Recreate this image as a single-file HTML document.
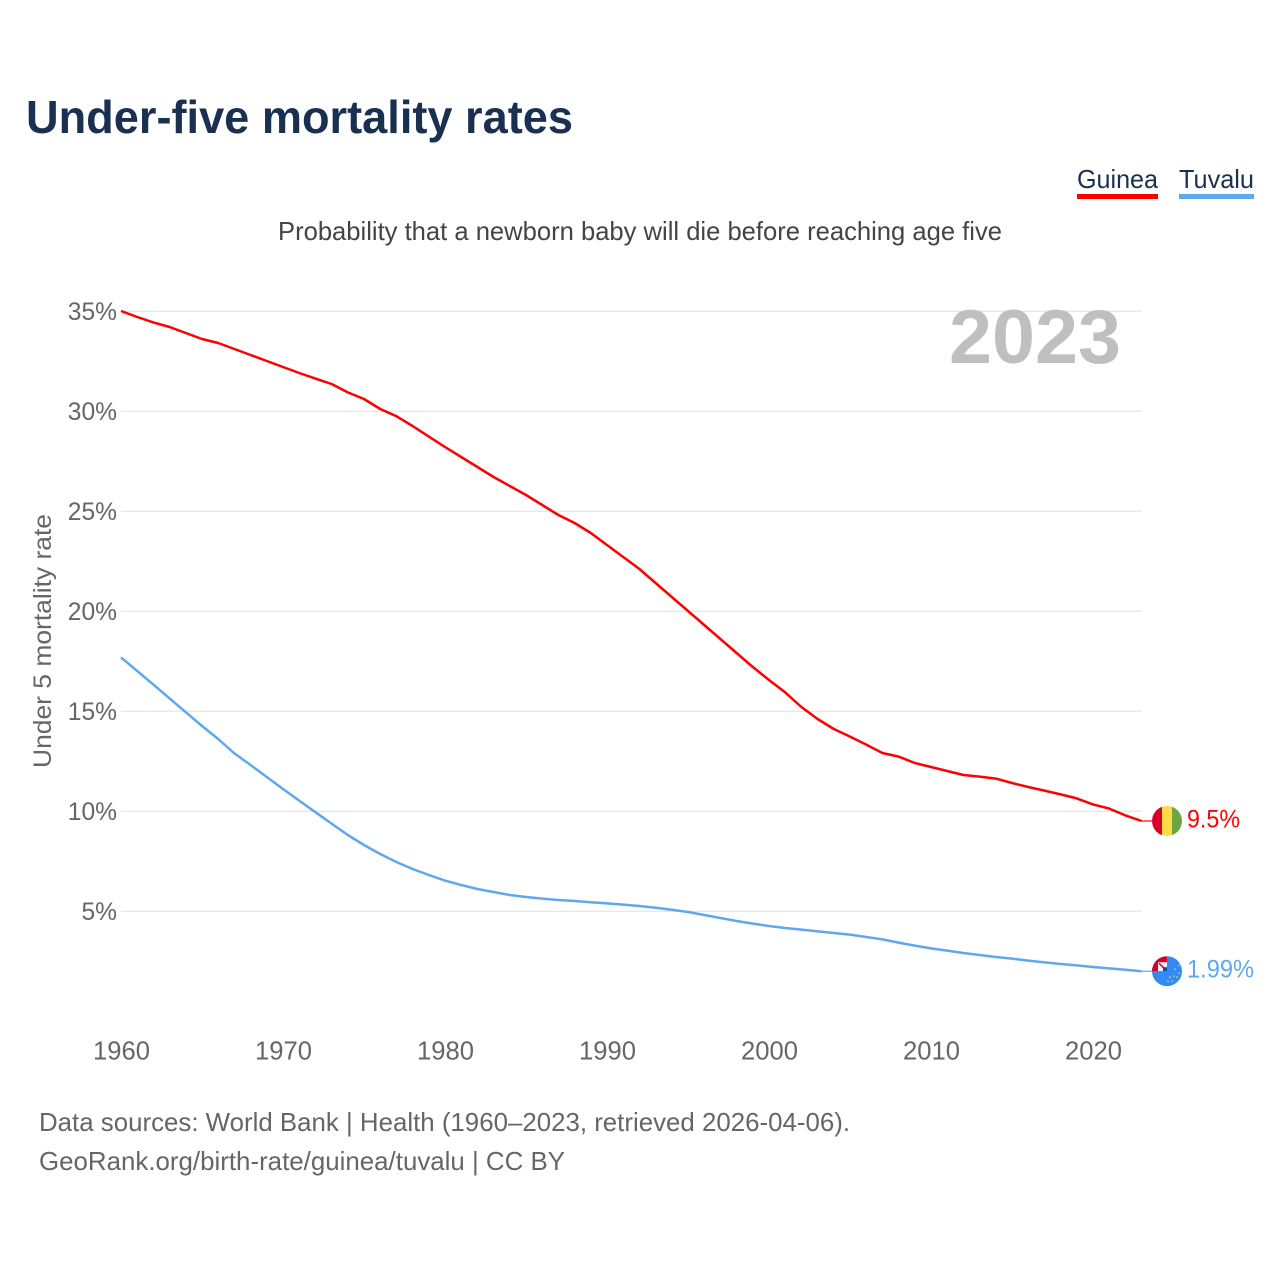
<!DOCTYPE html>
<html lang="en">
<head>
<meta charset="utf-8">
<title>Under-five mortality rates</title>
<style>
html,body{margin:0;padding:0;background:#fff;}
svg{display:block;font-family:"Liberation Sans",Arial,sans-serif;}
</style>
</head>
<body>
<svg id="chart" xmlns="http://www.w3.org/2000/svg" width="1280" height="1280" viewBox="0 0 1280 1280">
  <rect x="0" y="0" width="1280" height="1280" fill="#ffffff"/>
  <defs>
    <clipPath id="guinea-clip"><circle cx="0" cy="0" r="15"/></clipPath>
    <clipPath id="tuvalu-clip"><circle cx="0" cy="0" r="15"/></clipPath>
  </defs>

  <text x="26" y="133" font-size="46" font-weight="700" fill="#1a3050" textLength="547" lengthAdjust="spacingAndGlyphs">Under-five mortality rates</text>

  <g>
    <g>
      <text x="1077" y="188" font-size="26" fill="#1a3050" textLength="81" lengthAdjust="spacingAndGlyphs">Guinea</text>
      <rect x="1077" y="194" width="81" height="5" fill="#ff0000"/>
    </g>
    <g>
      <text x="1179" y="188" font-size="26" fill="#1a3050" textLength="75" lengthAdjust="spacingAndGlyphs">Tuvalu</text>
      <rect x="1179" y="194" width="75" height="5" fill="#5fa8ee"/>
    </g>
  </g>

  <text x="278" y="240" font-size="26" fill="#444444" textLength="724" lengthAdjust="spacingAndGlyphs">Probability that a newborn baby will die before reaching age five</text>

  <g id="grid"></g>
  <g id="y-ticks"></g>
  <g id="x-ticks"></g>

  <text transform="translate(51,768) rotate(-90)" x="0" y="0" font-size="25" fill="#666666" textLength="254" lengthAdjust="spacingAndGlyphs">Under 5 mortality rate</text>

  <text x="949" y="363" font-size="76" font-weight="700" fill="#bfbfbf" textLength="172" lengthAdjust="spacingAndGlyphs">2023</text>

  <g id="series"></g>

  <g id="flag-guinea">
    <g clip-path="url(#guinea-clip)">
      <rect x="-15" y="-15" width="10" height="30" fill="#d80027"/>
      <rect x="-5" y="-15" width="10" height="30" fill="#ffda44"/>
      <rect x="5" y="-15" width="10" height="30" fill="#6da544"/>
    </g>
  </g>

  <g id="flag-tuvalu">
    <g clip-path="url(#tuvalu-clip)">
      <rect x="-15" y="-15" width="30" height="30" fill="#338af3"/>
      <rect x="-15" y="-15" width="15" height="15" fill="#d80027"/>
      <rect x="-9" y="-9" width="9" height="9" fill="#f0f0f0"/>
      <path d="M-8,-8 L-2,-2" stroke="#d80027" stroke-width="1.5" fill="none"/>
      <rect x="-4" y="-4" width="4" height="4" fill="#0052b4"/>
      <g fill="#ffda44" fill-opacity="0.75">
        <circle cx="12" cy="-6" r="0.9"/><circle cx="8" cy="-2" r="0.9"/><circle cx="12" cy="2" r="0.9"/>
        <circle cx="7" cy="5" r="0.9"/><circle cx="3" cy="6" r="0.9"/><circle cx="10" cy="6" r="0.9"/>
        <circle cx="1" cy="10" r="0.9"/><circle cx="5" cy="10" r="0.9"/>
      </g>
    </g>
  </g>

  <text id="value-guinea" x="1187" font-size="25" fill="#ff0000" textLength="53" lengthAdjust="spacingAndGlyphs"></text>
  <text id="value-tuvalu" x="1187" font-size="25" fill="#5fa8ee" textLength="67" lengthAdjust="spacingAndGlyphs"></text>

  <text x="39" y="1131" font-size="26" fill="#666666" textLength="811" lengthAdjust="spacingAndGlyphs">Data sources: World Bank | Health (1960–2023, retrieved 2026-04-06).</text>
  <text x="39" y="1170" font-size="26" fill="#666666" textLength="526" lengthAdjust="spacingAndGlyphs">GeoRank.org/birth-rate/guinea/tuvalu | CC BY</text>
</svg>

<script>
const firstYear = 1960;
const yTickValues = [5, 10, 15, 20, 25, 30, 35];
const yTickLabels = ["5%", "10%", "15%", "20%", "25%", "30%", "35%"];
const xTickValues = [1960, 1970, 1980, 1990, 2000, 2010, 2020];
const xTickLabels = ["1960", "1970", "1980", "1990", "2000", "2010", "2020"];
const guineaValues = [
  35.0, 34.7, 34.43, 34.2, 33.9, 33.6, 33.4, 33.1, 32.8, 32.5,
  32.2, 31.9, 31.62, 31.35, 30.93, 30.6, 30.1, 29.74, 29.25, 28.72,
  28.2, 27.7, 27.2, 26.7, 26.25, 25.8, 25.3, 24.8, 24.4, 23.9,
  23.3, 22.7, 22.1, 21.4, 20.7, 20.0, 19.3, 18.6, 17.9, 17.2,
  16.55, 15.93, 15.2, 14.6, 14.1, 13.72, 13.32, 12.9, 12.72, 12.4,
  12.2, 12.0, 11.8, 11.72, 11.62, 11.4, 11.2, 11.02, 10.83, 10.63,
  10.33, 10.12, 9.78, 9.5
];
const tuvaluValues = [
  17.68, 17.0, 16.32, 15.63, 14.94, 14.25, 13.6, 12.88, 12.3, 11.7,
  11.1, 10.52, 9.94, 9.37, 8.8, 8.3, 7.85, 7.45, 7.1, 6.8,
  6.52, 6.3, 6.1, 5.95, 5.8, 5.7, 5.62, 5.55, 5.5, 5.44,
  5.38, 5.32, 5.25, 5.16, 5.06, 4.95, 4.8, 4.65, 4.5, 4.37,
  4.25, 4.15, 4.07, 3.98, 3.9, 3.82, 3.7, 3.58, 3.42, 3.27,
  3.13, 3.02, 2.9, 2.8, 2.7, 2.62, 2.52, 2.43, 2.35, 2.28,
  2.2, 2.13, 2.06, 1.99
];
const guineaValueLabel = "9.5%";
const tuvaluValueLabel = "1.99%";

const NS = "http://www.w3.org/2000/svg";
const xScale = function (year) { return 121 + (year - 1960) * 16.2; };
const yScale = function (value) { return 1011 - value * 20; };
const plotRight = 1141.6;
const flagX = 1167;

const gridGroup = document.getElementById("grid");
const yTickGroup = document.getElementById("y-ticks");
const xTickGroup = document.getElementById("x-ticks");
const seriesGroup = document.getElementById("series");

yTickValues.forEach(function (value, i) {
  const line = document.createElementNS(NS, "line");
  
  
  line.setAttribute("x1", 121);
  line.setAttribute("x2", plotRight);
  line.setAttribute("y1", yScale(value) + 0.3);
  line.setAttribute("y2", yScale(value) + 0.3);
  line.setAttribute("stroke", "#e8e8e8");
  line.setAttribute("stroke-width", 1.3);
  gridGroup.appendChild(line);

  const label = document.createElementNS(NS, "text");
  
  
  label.setAttribute("x", 117);
  label.setAttribute("y", yScale(value) + 9);
  label.setAttribute("text-anchor", "end");
  label.setAttribute("font-size", 24.6);
  label.setAttribute("fill", "#666666");
  label.textContent = yTickLabels[i];
  yTickGroup.appendChild(label);
});

xTickValues.forEach(function (year, i) {
  const label = document.createElementNS(NS, "text");
  
  
  label.setAttribute("x", xScale(year) + 0.5);
  label.setAttribute("y", 1059.5);
  label.setAttribute("text-anchor", "middle");
  label.setAttribute("font-size", 25.6);
  label.setAttribute("fill", "#666666");
  label.textContent = xTickLabels[i];
  xTickGroup.appendChild(label);
});

function linePoints(values) {
  return values.map(function (value, i) {
    return xScale(firstYear + i).toFixed(2) + "," + yScale(value).toFixed(2);
  }).join(" ");
}

const guineaLine = document.createElementNS(NS, "polyline");


guineaLine.setAttribute("points", linePoints(guineaValues));
guineaLine.setAttribute("fill", "none");
guineaLine.setAttribute("stroke", "#ff0000");
guineaLine.setAttribute("stroke-width", 2.5);
guineaLine.setAttribute("stroke-linejoin", "round");
seriesGroup.appendChild(guineaLine);

const tuvaluLine = document.createElementNS(NS, "polyline");


tuvaluLine.setAttribute("points", linePoints(tuvaluValues));
tuvaluLine.setAttribute("fill", "none");
tuvaluLine.setAttribute("stroke", "#5fa8ee");
tuvaluLine.setAttribute("stroke-width", 2.5);
tuvaluLine.setAttribute("stroke-linejoin", "round");
seriesGroup.appendChild(tuvaluLine);

const guineaLast = yScale(guineaValues[guineaValues.length - 1]);
const tuvaluLast = yScale(tuvaluValues[tuvaluValues.length - 1]);

const guineaConnector = document.createElementNS(NS, "line");


guineaConnector.setAttribute("x1", plotRight);
guineaConnector.setAttribute("x2", flagX - 15);
guineaConnector.setAttribute("y1", guineaLast);
guineaConnector.setAttribute("y2", guineaLast);
guineaConnector.setAttribute("stroke", "#ff0000");
guineaConnector.setAttribute("stroke-width", 1.2);
seriesGroup.appendChild(guineaConnector);

const tuvaluConnector = document.createElementNS(NS, "line");


tuvaluConnector.setAttribute("x1", plotRight);
tuvaluConnector.setAttribute("x2", flagX - 15);
tuvaluConnector.setAttribute("y1", tuvaluLast);
tuvaluConnector.setAttribute("y2", tuvaluLast);
tuvaluConnector.setAttribute("stroke", "#5fa8ee");
tuvaluConnector.setAttribute("stroke-width", 1.2);
seriesGroup.appendChild(tuvaluConnector);

document.getElementById("flag-guinea").setAttribute("transform", "translate(" + flagX + "," + guineaLast + ")");
document.getElementById("flag-tuvalu").setAttribute("transform", "translate(" + flagX + "," + tuvaluLast + ")");

const guineaValueText = document.getElementById("value-guinea");
guineaValueText.setAttribute("y", guineaLast + 6.5);
guineaValueText.textContent = guineaValueLabel;

const tuvaluValueText = document.getElementById("value-tuvalu");
tuvaluValueText.setAttribute("y", tuvaluLast + 6.5);
tuvaluValueText.textContent = tuvaluValueLabel;
</script>
</body>
</html>
